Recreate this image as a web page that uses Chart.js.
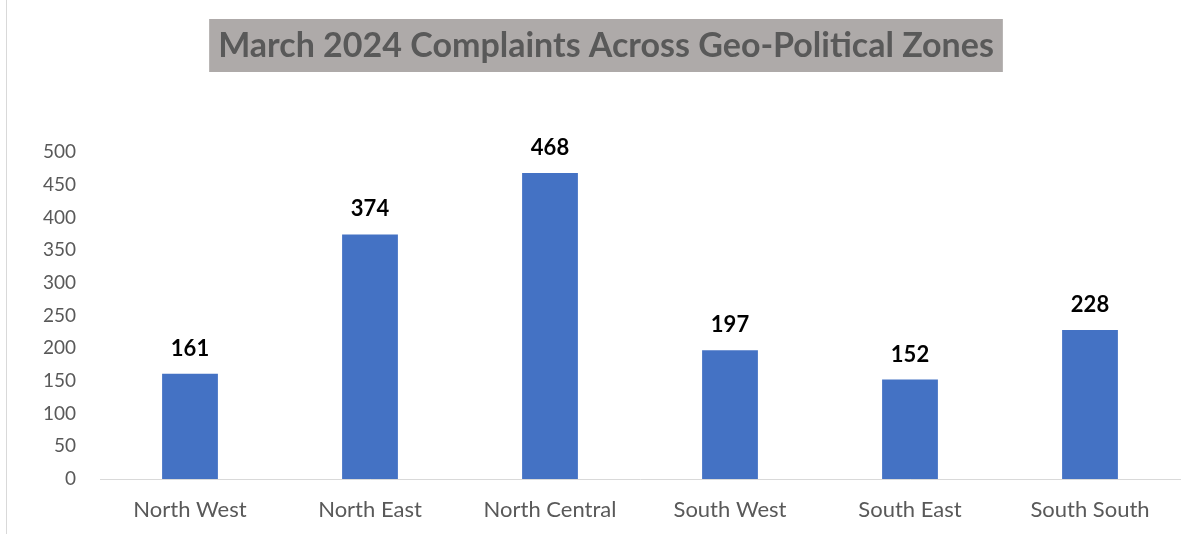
<!DOCTYPE html>
<html>
<head>
<meta charset="utf-8">
<script src="https://cdn.jsdelivr.net/npm/chart.js@4/dist/chart.umd.min.js"></script>
<style>
  html, body { margin: 0; padding: 0; background: #fff; }
  #wrap { position: relative; width: 1196px; height: 534px; }
  #wrap::before { content: ""; position: absolute; left: 6px; top: 0; bottom: 0; border-left: 1px solid #d9d9d9; }
</style>
</head>
<body>
<div id="wrap"><canvas id="chart" width="1196" height="534"></canvas></div>
<script>
"use strict";

const zones = ["North West", "North East", "North Central", "South West", "South East", "South South"];
const complaints = [161, 374, 468, 197, 152, 228];
const yTicks = [0, 50, 100, 150, 200, 250, 300, 350, 400, 450, 500];
const titleText = "March 2024 Complaints Across Geo-Political Zones";

const FONT = "Lato, 'Open Sans', sans-serif";

// title with its grey box, drawn on the canvas above the plot
const titleBox = {
  id: "titleBox",
  afterDraw(chart) {
    const ctx = chart.ctx;
    ctx.save();
    ctx.font = `bold 34px ${FONT}`;
    const w = ctx.measureText(titleText).width;
    const cx = 606;
    ctx.fillStyle = "#aeaaa9";
    ctx.fillRect(cx - w / 2 - 9, 19, w + 18, 53);
    ctx.fillStyle = "#595959";
    ctx.textAlign = "center";
    ctx.textBaseline = "middle";
    ctx.fillText(titleText, cx, 46);
    ctx.restore();
  },
};

// value labels above each bar
const barValues = {
  id: "barValues",
  afterDatasetsDraw(chart) {
    const ctx = chart.ctx;
    const meta = chart.getDatasetMeta(0);
    ctx.save();
    ctx.font = `bold 22px ${FONT}`;
    ctx.fillStyle = "#000";
    ctx.textAlign = "center";
    ctx.textBaseline = "bottom";
    meta.data.forEach((bar, i) => {
      ctx.fillText(String(complaints[i]), bar.x, bar.y - 14);
    });
    ctx.restore();
  },
};

new Chart(document.getElementById("chart"), {
  type: "bar",
  data: {
    labels: zones,
    datasets: [{
      data: complaints,
      backgroundColor: "#4472c4",
      categoryPercentage: 1,
      barPercentage: 0.31,
    }],
  },
  options: {
    responsive: false,
    animation: false,
    layout: { padding: { left: 0, right: 16, top: 152, bottom: 0 } },
    plugins: {
      legend: { display: false },
      tooltip: { enabled: false },
      title: { display: false },
    },
    scales: {
      x: {
        grid: { display: false, drawTicks: false },
        border: { display: true, color: "#d9d9d9", width: 1 },
        ticks: { color: "#595959", font: { family: FONT, size: 22 }, padding: 18 },
        afterFit(scale) { scale.height = 55; },
      },
      y: {
        min: 0,
        max: 500,
        grid: { display: false, drawTicks: false },
        border: { display: false },
        afterBuildTicks(scale) { scale.ticks = yTicks.map((v) => ({ value: v })); },
        ticks: { color: "#595959", font: { family: FONT, size: 19 }, padding: 24 },
        afterFit(scale) { scale.width = 100; },
      },
    },
  },
  plugins: [titleBox, barValues],
});
</script>
</body>
</html>
